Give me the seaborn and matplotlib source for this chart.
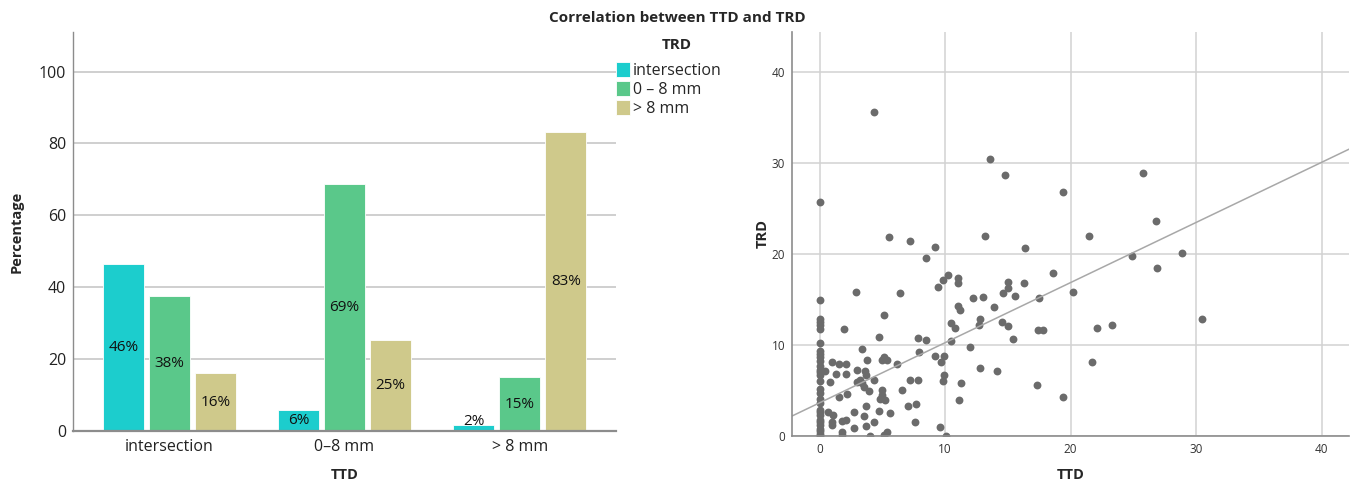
import numpy as np
import pandas as pd
import matplotlib.pyplot as plt
import seaborn as sns

# ---- bar chart data (percent of each TTD group) ----
ttd_groups = ['intersection', '0–8 mm', '> 8 mm']
trd_groups = ['intersection', '0 – 8 mm', '> 8 mm']
pct_intersection = [46.4, 5.9, 1.7]
pct_0_8 = [37.6, 68.6, 14.9]
pct_gt8 = [16.1, 25.4, 83.3]
bar_colors = ['#1ccdcd', '#5ac88a', '#cfc98b']

# ---- scatter data (TTD vs TRD) ----
ttd = [0] * 30 + [
    4.3, 13.6, 14.8, 25.8, 19.4, 26.8, 5.5, 7.2, 13.2, 21.5,
    9.2, 16.4, 8.5, 24.9, 28.9, 26.9, 18.6, 10.2, 9.85, 9.4,
    11.0, 11.0, 15.0, 15.0, 14.6, 16.3, 15.6, 17.5, 20.2, 2.9,
    6.4, 12.2, 13.0, 13.9, 11.0, 11.2, 5.1, 12.8, 12.7, 14.5,
    15.0, 10.5, 10.8, 1.9, 30.5, 22.1, 23.3, 17.4, 17.8, 4.7,
    15.4, 7.8, 8.5, 10.5, 12.0, 3.4, 7.9, 9.2, 9.9, 9.7,
    21.7, 5.1, 5.4, 5.0, 3.8, 6.2, 1.0, 1.5, 2.1, 0.45,
    1.3, 2.1, 2.95, 3.6, 3.7, 12.8, 14.1, 0.85, 3.2, 3.4,
    2.95, 4.3, 7.2, 7.8, 9.9, 9.8, 11.3, 17.3, 6.6, 3.55,
    3.9, 2.2, 1.5, 5.0, 5.0, 4.8, 5.2, 11.1, 19.4, 7.05,
    7.7, 3.7, 4.75, 5.6, 0.7, 1.1, 2.7, 3.5, 0.95, 0.95,
    2.1, 1.8, 4.3, 7.6, 3.7, 2.7, 9.6, 1.75, 1.8, 4.0,
    5.1, 5.4, 10.1,
]
trd = [
    25.7, 14.9, 12.8, 12.5, 12.2, 11.8, 10.2, 9.3, 9.0, 8.7,
    8.2, 7.7, 7.3, 7.0, 6.7, 6.0, 5.2, 4.7, 4.1, 3.6,
    2.9, 2.6, 2.3, 1.8, 1.5, 1.2, 0.8, 0.5, 0.2, 0.0,
] + [
    35.6, 30.4, 28.7, 28.9, 26.8, 23.6, 21.9, 21.4, 22.0, 22.0,
    20.8, 20.7, 19.5, 19.8, 20.1, 18.5, 17.9, 17.7, 17.1, 16.4,
    17.4, 16.8, 16.9, 16.2, 15.7, 16.8, 15.4, 15.2, 15.8, 15.8,
    15.7, 15.2, 15.3, 14.2, 14.3, 13.8, 13.3, 12.9, 12.2, 12.5,
    12.1, 12.4, 11.9, 11.7, 12.8, 11.9, 12.2, 11.6, 11.6, 10.9,
    10.7, 10.8, 10.5, 10.4, 9.8, 9.6, 9.2, 8.8, 8.8, 8.1,
    8.1, 8.7, 8.3, 8.4, 8.35, 7.9, 8.1, 7.9, 7.9, 7.1,
    6.8, 6.8, 7.2, 7.1, 6.7, 7.5, 7.1, 5.9, 6.15, 5.8,
    5.9, 6.2, 6.15, 6.15, 6.7, 6.0, 5.8, 5.6, 5.1, 5.4,
    4.9, 4.65, 4.25, 5.05, 4.5, 4.1, 4.0, 4.0, 4.3, 3.3,
    3.5, 3.3, 2.8, 2.5, 2.6, 2.3, 2.6, 2.2, 1.5, 1.2,
    1.8, 1.6, 1.5, 1.5, 1.1, 0.9, 1.0, 0.4, 0.1, 0.0,
    0.1, 0.4, 0.0,
]
fit_intercept = 3.65   # fit line
fit_slope = 0.66

sns.set_theme(style='white')
plt.rcParams['font.family'] = ['Open Sans', 'DejaVu Sans']

fig = plt.figure(figsize=(13.54, 4.83), dpi=100)
ax1 = fig.add_axes([0.0539, 0.1077, 0.4011, 0.8261])
ax2 = fig.add_axes([0.585, 0.0973, 0.4114, 0.8371])

# bar chart
df = pd.DataFrame({
    'TTD': ttd_groups * 3,
    'TRD': np.repeat(trd_groups, 3),
    'pct': pct_intersection + pct_0_8 + pct_gt8,
})
sns.barplot(data=df, x='TTD', y='pct', hue='TRD', palette=bar_colors,
            saturation=1, width=0.79, gap=0.11, edgecolor='white',
            linewidth=0.6, ax=ax1)
# percentage labels in the middle of each bar (kept off the axis for tiny bars)
for c in ax1.containers:
    for p, v in zip(c.patches, c.datavalues):
        ax1.text(p.get_x() + p.get_width() / 2, max(v / 2, 2.6), f'{v:.0f}%',
                 ha='center', va='center', fontsize=11, color='#111111')

ax1.set_xlim(-0.55, 2.55)
ax1.set_ylim(0, 111)
ax1.set_yticks([0, 20, 40, 60, 80, 100])
ax1.grid(axis='y', color='#cccccc', lw=1.3)
ax1.set_axisbelow(True)
sns.despine(ax=ax1)
for s in ['left', 'bottom']:
    ax1.spines[s].set_color('#8c8c8c')
ax1.spines['left'].set_linewidth(1.0)
ax1.spines['bottom'].set_linewidth(1.6)
ax1.tick_params(axis='both', length=0, labelsize=11.5, colors='#222222')
ax1.tick_params(axis='x', pad=6)
ax1.tick_params(axis='y', pad=5)
ax1.set_xlabel('TTD', fontsize=10.5, fontweight='bold')
ax1.set_ylabel('Percentage', fontsize=10.5, fontweight='bold')
ax1.xaxis.set_label_coords(0.501, -0.093)
ax1.yaxis.set_label_coords(-0.09, 0.5)

sns.move_legend(ax1, 'upper left', bbox_to_anchor=(1.0, 0.925),
                frameon=False, title=None, fontsize=11.5,
                handlelength=0.9, handleheight=1.1, handletextpad=0.15,
                labelspacing=0.12, borderpad=0, borderaxespad=0)
fig.text(677 / 1354, 1 - 45 / 483, 'TRD', ha='center', va='center',
         fontsize=11, fontweight='bold')

# scatter
ax2.grid(True, color='#d2d2d2', lw=1.1)
ax2.set_axisbelow(True)
sns.scatterplot(x=ttd, y=trd, color='#6b6b6b', s=32, linewidth=0, ax=ax2)
ax2.axline((0, fit_intercept), slope=fit_slope, color='#a8a8a8', lw=1.1)
ax2.set_xlim(-2.2, 42.2)
ax2.set_ylim(0, 44.4)
ax2.set_xticks([0, 10, 20, 30, 40])
ax2.set_yticks([0, 10, 20, 30, 40])
sns.despine(ax=ax2)
for s in ['left', 'bottom']:
    ax2.spines[s].set_color('#8c8c8c')
    ax2.spines[s].set_linewidth(1.2)
ax2.tick_params(axis='both', length=3, width=1, color='#8c8c8c',
                labelsize=8.5, labelcolor='#333333', pad=2)
ax2.set_xlabel('TTD', fontsize=10.5, fontweight='bold')
ax2.set_ylabel('TRD', fontsize=10.5, fontweight='bold')
ax2.xaxis.set_label_coords(0.5, -0.078)
ax2.yaxis.set_label_coords(-0.04, 0.5)

fig.text(0.5, 0.963, 'Correlation between TTD and TRD', ha='center',
         va='center', fontsize=11, fontweight='bold')

fig.savefig('out.png', dpi=100)
